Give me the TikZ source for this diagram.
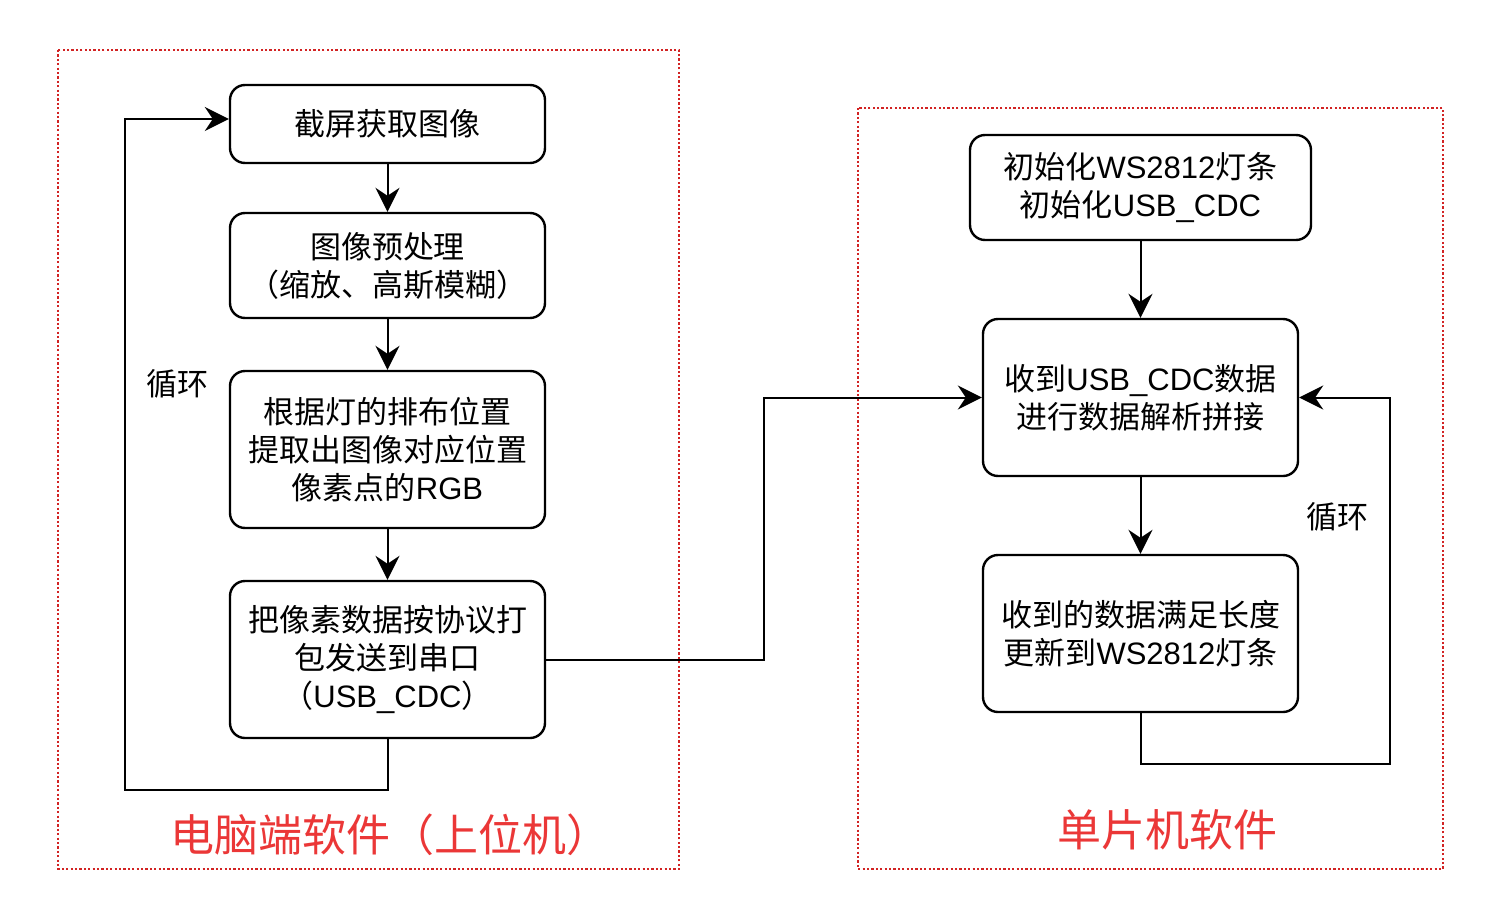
\documentclass[tikz,border=0pt]{standalone}
\usepackage{fontspec}
\setmainfont{Noto Sans CJK SC}
\newfontfamily\lat{Liberation Sans}
\usetikzlibrary{arrows.meta}
\definecolor{boxred}{RGB}{210,35,35}
\definecolor{titlered}{RGB}{235,55,55}
\tikzset{
  stepbox/.style={draw=black, line width=1.2pt, rounded corners=7.5pt, align=center, inner sep=0pt, font=\fontsize{15.5pt}{19pt}\selectfont},
  arr/.style={line width=1pt, -{Stealth[length=12pt,width=12pt,inset=4pt]}},
  group/.style={draw=boxred, line width=1.1pt, dash pattern=on 1.1pt off 1.1pt},
  lbl/.style={font=\fontsize{15.5pt}{19pt}\selectfont, inner sep=0pt},
  ttl/.style={font=\fontsize{22pt}{26pt}\selectfont, text=titlered, inner sep=0pt}
}
\begin{document}
\begin{tikzpicture}[x=0.5pt,y=-0.5pt]
\useasboundingbox[fill=white] (0,0) rectangle (1501,916);
% groups
\draw[group] (58,50) rectangle (679,869);
\draw[group] (858,108) rectangle (1443,869);
% left nodes
\node[stepbox, minimum width=157.5pt, minimum height=39pt] (b1) at (387.5,124) {截屏获取图像};
\node[stepbox, minimum width=157.5pt, minimum height=52.5pt] (b2) at (387.5,265.5) {图像预处理\\（缩放、高斯模糊）};
\node[stepbox, minimum width=157.5pt, minimum height=78.5pt] (b3) at (387.5,449.5) {根据灯的排布位置\\提取出图像对应位置\\像素点的{\lat RGB}};
\node[stepbox, minimum width=157.5pt, minimum height=78.5pt] (b4) at (387.5,659.5) {把像素数据按协议打\\包发送到串口\\（{\lat USB\_CDC}）};
% right nodes
\node[stepbox, minimum width=170.5pt, minimum height=52.5pt] (ra) at (1140.5,187.5) {初始化{\lat WS2812}灯条\\初始化{\lat USB\_CDC}};
\node[stepbox, minimum width=157.5pt, minimum height=78.5pt] (rb) at (1140.5,397.5) {收到{\lat USB\_CDC}数据\\进行数据解析拼接};
\node[stepbox, minimum width=157.5pt, minimum height=78.5pt] (rc) at (1140.5,633.5) {收到的数据满足长度\\更新到{\lat WS2812}灯条};
% labels
\node[lbl] (l1) at (177,384) {循环};
\node[lbl] (l2) at (1337,517) {循环};
\node[ttl] (t1) at (390,835) {电脑端软件（上位机）};
\node[ttl] (t2) at (1167,830) {单片机软件};
% coordinates
\coordinate (lc1) at (387.5,790);
\coordinate (lc2) at (125,790);
\coordinate (lc3) at (125,119);
\coordinate (mc) at (764,659.5);
\coordinate (rc1) at (1140.5,764);
\coordinate (rc2) at (1390,764);
\coordinate (rc3) at (1390,397.5);
% arrows left
\draw[arr] (b1) -- (b2);
\draw[arr] (b2) -- (b3);
\draw[arr] (b3) -- (b4);
\draw[arr] (b4.south) -- (lc1) -- (lc2) -- (lc3) -- ([yshift=2.5pt]b1.west);
% cross
\draw[arr] (b4.east) -- (mc) |- (rb.west);
% arrows right
\draw[arr] (ra) -- (rb);
\draw[arr] (rb) -- (rc);
\draw[arr] (rc.south) -- (rc1) -- (rc2) -- (rc3) -- (rb.east);
\end{tikzpicture}
\end{document}
